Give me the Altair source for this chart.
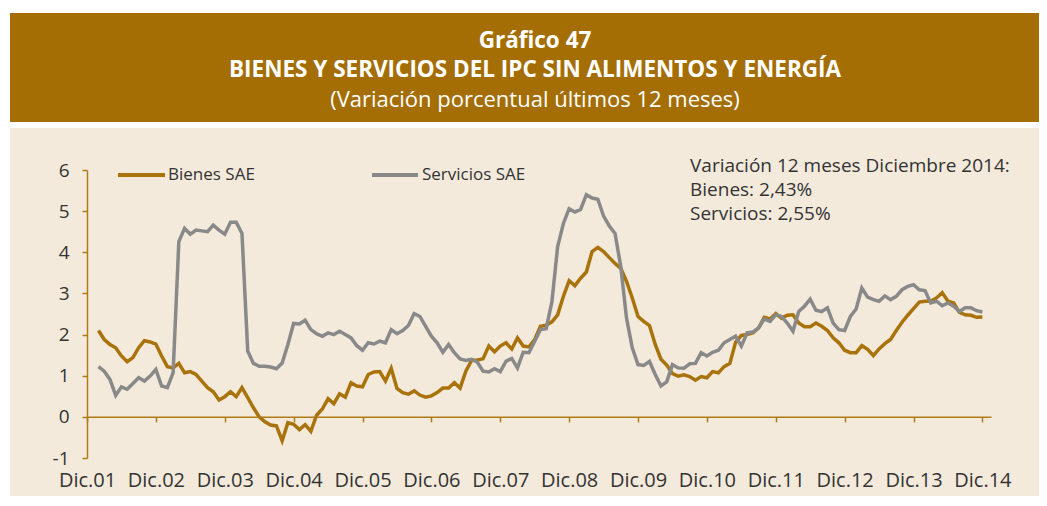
import altair as alt
import pandas as pd

# ---------------- data ----------------
series_names = ["Bienes SAE", "Servicios SAE"]
tick_months = [0, 12, 24, 36, 48, 60, 72, 84, 96, 108, 120, 132, 144, 156]
tick_labels = ["Dic.01", "Dic.02", "Dic.03", "Dic.04", "Dic.05", "Dic.06", "Dic.07",
               "Dic.08", "Dic.09", "Dic.10", "Dic.11", "Dic.12", "Dic.13", "Dic.14"]
y_ticks = [-1, 0, 1, 2, 3, 4, 5, 6]

# month index: 0 = Dic.01 ... 156 = Dic.14
months = list(range(2, 157))

bienes = [
    2.10, 1.88, 1.76, 1.68, 1.48, 1.34, 1.44, 1.68, 1.85, 1.82, 1.77, 1.48, 1.22,
    1.19, 1.30, 1.07, 1.10, 1.03, 0.87, 0.71, 0.61, 0.41, 0.49, 0.61, 0.49, 0.71,
    0.47, 0.22, 0.00, -0.12, -0.20, -0.22, -0.58, -0.14, -0.18, -0.31, -0.19, -0.35,
    0.04, 0.19, 0.44, 0.32, 0.56, 0.48, 0.83, 0.75, 0.73, 1.03, 1.09, 1.10, 0.87,
    1.18, 0.69, 0.59,
    0.55, 0.63, 0.53, 0.48, 0.51, 0.59, 0.70, 0.70, 0.83, 0.70, 1.11, 1.37, 1.38,
    1.41, 1.72, 1.58, 1.72, 1.80, 1.65, 1.92, 1.72, 1.70, 1.88, 2.20, 2.23, 2.31, 2.48,
    2.93, 3.31, 3.19, 3.37, 3.52, 4.02, 4.12, 4.02, 3.87, 3.73, 3.61, 3.29, 2.89,
    2.44, 2.32, 2.22, 1.76, 1.40, 1.26, 1.05, 0.99, 1.02, 0.98, 0.89, 0.98,
    0.95, 1.10, 1.07, 1.22, 1.30, 1.81, 1.98, 2.00, 2.04, 2.16, 2.42, 2.38, 2.51,
    2.40, 2.47, 2.48, 2.28, 2.19, 2.19, 2.28, 2.20, 2.10, 1.92, 1.80, 1.62, 1.56,
    1.56, 1.73,
    1.64, 1.49, 1.65, 1.78, 1.88, 2.10, 2.30, 2.47, 2.63, 2.79, 2.81, 2.81, 2.89,
    3.02, 2.81, 2.77, 2.54, 2.48, 2.47, 2.42, 2.43,
]

servicios = [
    1.22, 1.11, 0.91, 0.52, 0.73, 0.67, 0.81, 0.95, 0.87, 0.99, 1.15, 0.75, 0.71,
    1.07, 4.26, 4.58, 4.44, 4.54, 4.52, 4.50, 4.66, 4.54, 4.44, 4.73, 4.73, 4.46,
    1.60, 1.30, 1.23, 1.23, 1.21, 1.17, 1.31, 1.76, 2.27, 2.26, 2.35, 2.12, 2.02,
    1.96, 2.04, 2.00, 2.08, 2.00, 1.92, 1.73, 1.62, 1.80, 1.77, 1.84, 1.80, 2.12,
    2.02, 2.10,
    2.22, 2.51, 2.44, 2.20, 1.96, 1.80, 1.57, 1.76, 1.56, 1.41, 1.37, 1.40, 1.33,
    1.11, 1.09, 1.17, 1.10, 1.35, 1.42, 1.19, 1.57, 1.56, 1.84, 2.12, 2.14, 2.80, 4.14,
    4.70, 5.06, 4.98, 5.04, 5.40, 5.32, 5.29, 4.88, 4.64, 4.46, 3.65, 2.40, 1.68,
    1.27, 1.25, 1.35, 1.03, 0.75, 0.85, 1.27, 1.19, 1.18, 1.29, 1.30, 1.56,
    1.48, 1.57, 1.62, 1.80, 1.88, 1.96, 1.72, 2.04, 2.06, 2.16, 2.38, 2.32, 2.48,
    2.44, 2.28, 2.08, 2.56, 2.69, 2.86, 2.59, 2.56, 2.65, 2.28, 2.12, 2.10, 2.44,
    2.62, 3.13,
    2.91, 2.85, 2.81, 2.94, 2.85, 2.93, 3.09, 3.17, 3.21, 3.09, 3.07, 2.77, 2.81,
    2.70, 2.77, 2.69, 2.56, 2.65, 2.65, 2.58, 2.55,
]

title_lines = ["Gráfico 47",
               "BIENES Y SERVICIOS DEL IPC SIN ALIMENTOS Y ENERGÍA",
               "(Variación porcentual últimos 12 meses)"]
note_lines = ["Variación 12 meses Diciembre 2014:", "Bienes: 2,43%", "Servicios: 2,55%"]

# ---------------- style ----------------
FONT = "Open Sans"
BROWN = "#A9720B"
GREY = "#898989"
AXIS = "#B07B16"
BANNER = "#A46E05"
BEIGE = "#F3EADC"
TXT = "#333333"
palette = [BROWN, GREY]

W, H = 904, 288

rows = []
for m, v in zip(months, bienes):
    rows.append({"mes": m, "valor": v, "serie": series_names[0]})
for m, v in zip(months, servicios):
    rows.append({"mes": m, "valor": v, "serie": series_names[1]})
df = pd.DataFrame(rows)

label_expr = "[" + ",".join("'%s'" % t for t in tick_labels) + "][round(datum.value/12)]"
zero_offset = -(H * 1.0 / 7.0)  # move x axis line up to y = 0

x_enc = alt.X("mes:Q",
              scale=alt.Scale(domain=[0, 157.5], nice=False, zero=False),
              axis=alt.Axis(values=tick_months, labelExpr=label_expr, title=None,
                            grid=False, offset=zero_offset, domainColor=AXIS,
                            tickColor=AXIS, tickSize=5, domainWidth=1.5, tickWidth=1.5,
                            labelPadding=49, labelFontSize=20, labelColor=TXT,
                            labelFont=FONT, labelFlush=False, labelOverlap=False,
                            zindex=1))
y_enc = alt.Y("valor:Q",
              scale=alt.Scale(domain=[-1, 6], nice=False, zero=False),
              axis=alt.Axis(values=y_ticks, title=None, grid=False, domainColor=AXIS,
                            tickColor=AXIS, tickSize=5, domainWidth=1.5, tickWidth=1.5,
                            labelPadding=13, labelFontSize=19, labelColor=TXT,
                            labelFont=FONT, labelExpr="'' + datum.value", zindex=1))

one = pd.DataFrame({"k": [0]})

banner = alt.Chart(one).mark_rect(color=BANNER).encode(
    x=alt.value(-77), x2=alt.value(952), y=alt.value(-157), y2=alt.value(-48))
panel = alt.Chart(one).mark_rect(color=BEIGE).encode(
    x=alt.value(-77), x2=alt.value(952), y=alt.value(-42), y2=alt.value(335))

t1 = alt.Chart(one).mark_text(font=FONT, fontSize=22.5, fontWeight="bold", color="white",
                              align="center", baseline="middle").encode(
    x=alt.value(448), y=alt.value(-129), text=alt.value(title_lines[0]))
t2 = alt.Chart(one).mark_text(font=FONT, fontSize=22.5, fontWeight="bold", color="white",
                              align="center", baseline="middle").encode(
    x=alt.value(448), y=alt.value(-100), text=alt.value(title_lines[1]))
t3 = alt.Chart(one).mark_text(font=FONT, fontSize=22, color="white",
                              align="center", baseline="middle").encode(
    x=alt.value(448), y=alt.value(-70), text=alt.value(title_lines[2]))

lines = alt.Chart(df).mark_line(strokeWidth=3.5).encode(
    x=x_enc, y=y_enc,
    color=alt.Color("serie:N", scale=alt.Scale(domain=series_names, range=palette),
                    legend=None))

leg_r1 = alt.Chart(one).mark_rule(strokeWidth=4, color=palette[0]).encode(
    x=alt.value(31), x2=alt.value(78), y=alt.value(5))
leg_t1 = alt.Chart(one).mark_text(font=FONT, fontSize=17, color=TXT, align="left",
                                  baseline="middle").encode(
    x=alt.value(81), y=alt.value(5), text=alt.value(series_names[0]))
leg_r2 = alt.Chart(one).mark_rule(strokeWidth=4, color=palette[1]).encode(
    x=alt.value(285), x2=alt.value(331), y=alt.value(5))
leg_t2 = alt.Chart(one).mark_text(font=FONT, fontSize=17, color=TXT, align="left",
                                  baseline="middle").encode(
    x=alt.value(335), y=alt.value(5), text=alt.value(series_names[1]))

note = alt.Chart(one).mark_text(font=FONT, fontSize=19, color=TXT, align="left",
                                baseline="alphabetic", lineHeight=24).encode(
    x=alt.value(603), y=alt.value(2), text=alt.value(note_lines))

chart = alt.layer(
    banner, panel, t1, t2, t3, lines, leg_r1, leg_t1, leg_r2, leg_t2, note
).properties(
    width=W, height=H,
    padding={"left": 79, "top": 162, "right": 48, "bottom": 38},
    autosize=alt.AutoSizeParams(type="none"),
    background="white",
).configure_view(stroke=None)

chart.save("out.html", embed_options={"renderer": "svg", "actions": False})
